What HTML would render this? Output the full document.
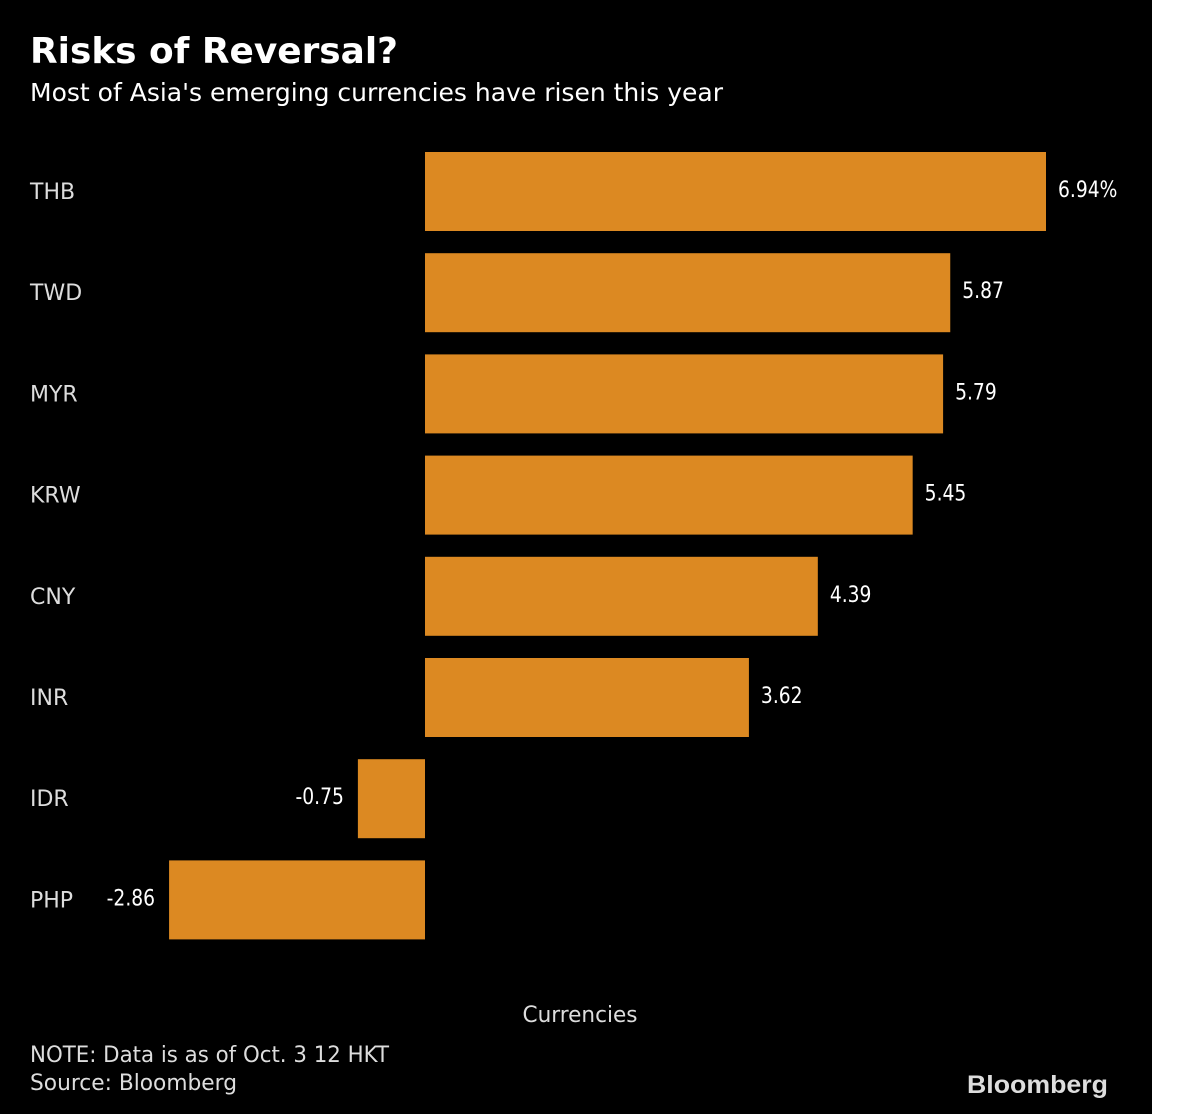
<!DOCTYPE html>
<html><head><meta charset="utf-8"><style>
html,body{margin:0;padding:0;background:#fff;}
svg{display:block;font-family:"DejaVu Sans","Liberation Sans",sans-serif;}
</style></head><body>
<svg id="chart" width="1200" height="1114" viewBox="0 0 1200 1114">
<rect x="0" y="0" width="1152" height="1114" fill="#000"/>
<text x="30" y="63" fill="#fff" font-weight="bold" font-size="36" textLength="368" lengthAdjust="spacingAndGlyphs">Risks of Reversal?</text>
<text x="30" y="101" fill="#fff" font-size="25" textLength="693" lengthAdjust="spacingAndGlyphs">Most of Asia's emerging currencies have risen this year</text>
<g id="bars"></g>
<text x="580" y="1022" fill="#ddd" font-size="22" text-anchor="middle" textLength="115" lengthAdjust="spacingAndGlyphs">Currencies</text>
<text x="30" y="1062" fill="#ddd" font-size="22" textLength="359" lengthAdjust="spacingAndGlyphs">NOTE: Data is as of Oct. 3 12 HKT</text>
<text x="30" y="1090" fill="#ddd" font-size="22" textLength="207" lengthAdjust="spacingAndGlyphs">Source: Bloomberg</text>
<text x="1108" y="1093" fill="#ddd" font-family="Liberation Sans, sans-serif" font-weight="bold" font-size="25" text-anchor="end" textLength="141" lengthAdjust="spacingAndGlyphs">Bloomberg</text>
</svg>
<script>
const categories = ["THB","TWD","MYR","KRW","CNY","INR","IDR","PHP"];
const values = [6.94,5.87,5.79,5.45,4.39,3.62,-0.75,-2.86];
const valueLabels = ["6.94%","5.87","5.79","5.45","4.39","3.62","-0.75","-2.86"];
const NS="http://www.w3.org/2000/svg";
const x0=425, scale=621/6.94;
function xPos(v){return x0+v*scale;}
function yPos(i){return 152+i*101.2;}
const g=document.getElementById('bars');
categories.forEach((c,i)=>{
  const v=values[i], y=yPos(i), h=79;
  const r=document.createElementNS(NS,'rect');
  
  
  const xa=Math.min(xPos(0),xPos(v)), w=Math.abs(xPos(v)-xPos(0));
  r.setAttribute('x',xa);r.setAttribute('y',y);r.setAttribute('width',w);r.setAttribute('height',h);
  r.setAttribute('fill','#dc8922');
  g.appendChild(r);
  const t=document.createElementNS(NS,'text');
  
  
  t.setAttribute('x',30);t.setAttribute('y',y+47);t.setAttribute('fill','#ddd');t.setAttribute('font-size','22');
  t.textContent=c;g.appendChild(t);
  const l=document.createElementNS(NS,'text');
  
  
  l.setAttribute('y',y+45);l.setAttribute('fill','#fff');l.setAttribute('font-size','22');
  if(v>=0){l.setAttribute('x',xPos(v)+12);}else{l.setAttribute('x',xPos(v)-14);l.setAttribute('text-anchor','end');}
  l.textContent=valueLabels[i];g.appendChild(l);
  const len=l.getComputedTextLength();
  l.setAttribute('textLength',len*0.85);
  l.setAttribute('lengthAdjust','spacingAndGlyphs');
});
</script>
</body></html>
